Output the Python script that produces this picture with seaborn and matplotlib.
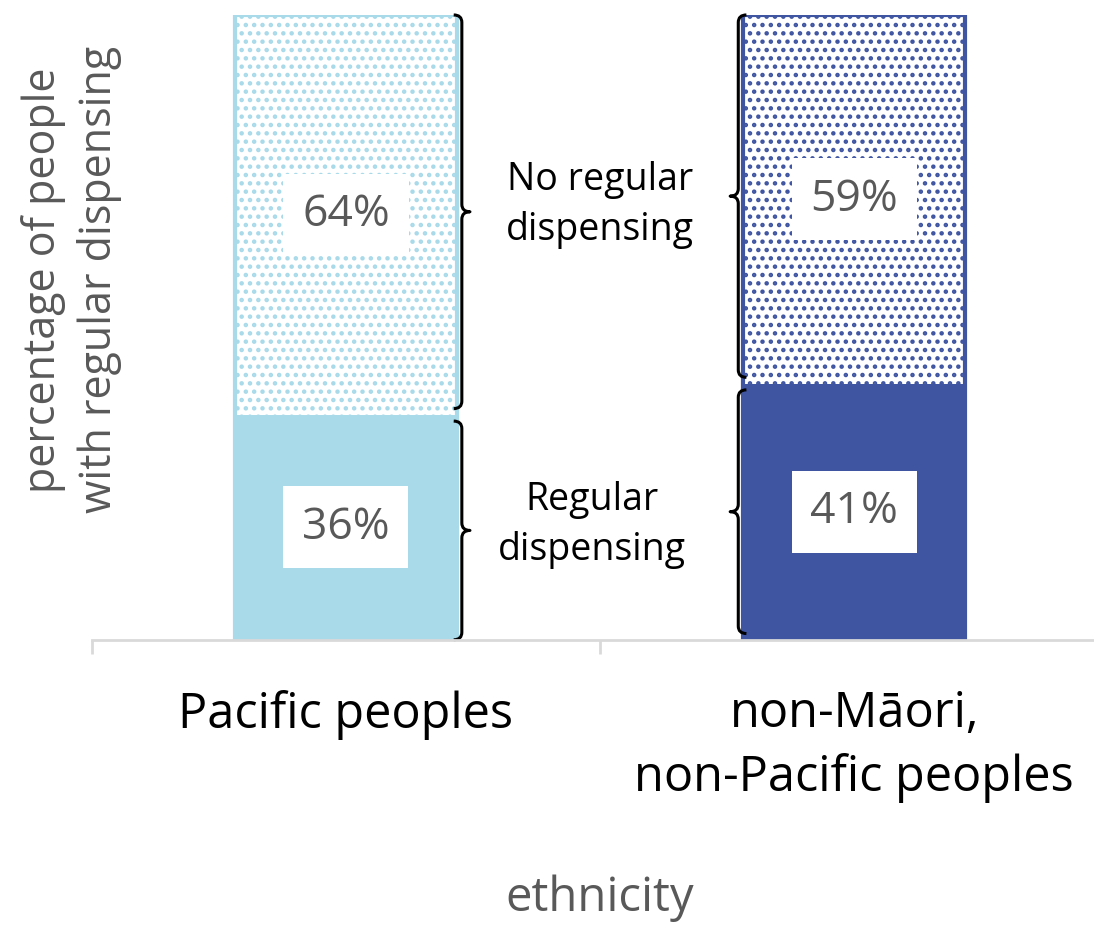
import numpy as np
import pandas as pd
import matplotlib
matplotlib.use('Agg')
import matplotlib.pyplot as plt
from matplotlib.path import Path
from matplotlib.patches import PathPatch
import seaborn as sns

# Dados
categories = ['Pacific peoples', 'non-Māori,\nnon-Pacific peoples']
regular = [0.36, 0.41]
no_regular = [0.64, 0.59]
colors = ['#A8DAEA', '#3F55A2']
segment_names = ['Regular\ndispensing', 'No regular\ndispensing']

sns.set_style('white')
plt.rcParams['font.family'] = ['Open Sans', 'DejaVu Sans']
plt.rcParams['hatch.linewidth'] = 2.0

GRAY = '#595959'

fig = plt.figure(figsize=(10.94, 9.34), dpi=100)
ax = fig.add_axes([0.084, 0.315, 0.929, 0.669])

df = pd.DataFrame({
    'ethnicity': categories,
    'regular': regular,
    'total': np.array(regular) + np.array(no_regular),
})

# Barra total (parte sem dispensação regular, pontilhada)
sns.barplot(data=df, x='ethnicity', y='total', hue='ethnicity', palette=colors,
            width=0.437, legend=False, ax=ax, saturation=1)
for patch, c in zip(ax.patches, colors):
    patch.set_facecolor('white')
    patch.set_edgecolor(c)
    patch.set_hatch('..')
    patch.set_linewidth(3)

# Parte com dispensação regular (sólida)
n_before = len(ax.patches)
sns.barplot(data=df, x='ethnicity', y='regular', hue='ethnicity', palette=colors,
            width=0.437, legend=False, ax=ax, saturation=1)
for patch, c in zip(ax.patches[n_before:], colors):
    patch.set_facecolor(c)
    patch.set_edgecolor(c)
    patch.set_linewidth(0)

# Rótulos de porcentagem em caixas brancas
for i in range(len(categories)):
    for val, mid in [(regular[i], regular[i] / 2), (no_regular[i], regular[i] + no_regular[i] / 2)]:
        ax.text(i, mid, f'{val:.0%}', ha='center', va='center', fontsize=32, color=GRAY,
                bbox=dict(boxstyle='square,pad=0.42', facecolor='white', edgecolor='none'))


def draw_brace(ax, x, y0, y1, direction, width=0.016, hook=0.016, r=0.012):
    # chave vertical com curvas; direction=+1 aponta para direita, -1 para esquerda
    d = direction
    ym = (y0 + y1) / 2
    verts = [
        (x - d * hook, y0), (x, y0), (x, y0 + r),
        (x, ym - r), (x, ym), (x + d * width, ym),
        (x, ym), (x, ym + r),
        (x, y1 - r), (x, y1), (x - d * hook, y1),
    ]
    codes = [Path.MOVETO, Path.CURVE3, Path.CURVE3,
             Path.LINETO, Path.CURVE3, Path.CURVE3,
             Path.CURVE3, Path.CURVE3,
             Path.LINETO, Path.CURVE3, Path.CURVE3]
    ax.add_patch(PathPatch(Path(verts, codes), facecolor='none', edgecolor='black',
                           lw=2.2, clip_on=False, joinstyle='round'))


# Chaves: Pacific (à direita da barra), non-Māori (à esquerda)
draw_brace(ax, 0.228, 0.0, regular[0] - 0.01, +1)
draw_brace(ax, 0.228, regular[0] + 0.01, 1.0, +1)
draw_brace(ax, 1 - 0.228, 0.01, regular[1] - 0.01, -1)
draw_brace(ax, 1 - 0.228, regular[1] + 0.01, 1.0, -1)

ax.text(0.5, 0.696, segment_names[1], ha='center', va='center', fontsize=27, color='black',
        linespacing=1.4)
ax.text(0.485, 0.184, segment_names[0], ha='center', va='center', fontsize=27, color='black',
        linespacing=1.4)

ax.set_xlim(-0.5, 1.5)
ax.set_ylim(0, 1)
sns.despine(ax=ax, left=True, top=True, right=True)
ax.spines['bottom'].set_color('#D9D9D9')
ax.spines['bottom'].set_linewidth(2)
ax.set_yticks([])
ax.set_xticks([-0.5, 0.5, 1.5], minor=True)
ax.tick_params(axis='x', which='minor', length=10, width=2, color='#D9D9D9', bottom=True)
ax.tick_params(axis='x', which='major', length=0, pad=36, labelsize=35, labelcolor='black')
ax.set_xticks([0, 1])
ax.set_xticklabels(categories, linespacing=1.35)

ax.set_xlabel('ethnicity', fontsize=34, color=GRAY, labelpad=52)
ax.set_ylabel('percentage of people\nwith regular dispensing', fontsize=31, color=GRAY,
              linespacing=1.3, va='center', ha='center')
ax.yaxis.set_label_coords(-0.02, 0.576)

fig.savefig('out.png', dpi=100)
